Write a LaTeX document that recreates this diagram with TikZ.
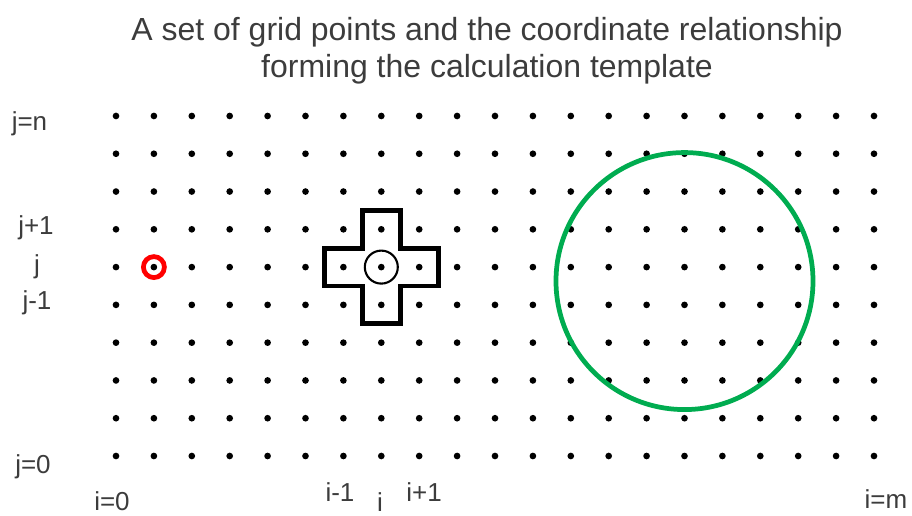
\documentclass[tikz,border=0pt]{standalone}
\usepackage{fontspec}
\setmainfont{Liberation Sans}
\usetikzlibrary{positioning}
\definecolor{TextGray}{RGB}{60,60,60}
\definecolor{StencilGreen}{RGB}{0,172,80}
\definecolor{PointRed}{RGB}{255,0,0}

\begin{document}
\begin{tikzpicture}[every node/.style={font=\fontsize{14.8}{17}\selectfont, text=TextGray, inner sep=0pt}]
\tikzset{
  heading/.style={font=\fontsize{18.2}{21}\selectfont, align=center},
  index/.style={anchor=base},
  gridpt/.style={fill=black},
  stencil/.style={draw=black, line width=2.7pt, line join=miter},
  mark ring/.style={draw=PointRed, line width=2.7pt},
  region/.style={draw=StencilGreen, line width=2.7pt}
}
  \useasboundingbox (0,0) rectangle (18.24,10.3);
  \node[heading] (title) at (9.74,9.28)
    {A set of grid points and the coordinate relationship\\forming the calculation template};
  % row indices
  \node[index] (jn) at (0.59,7.68) {j=n};
  \node[index] (jp) at (0.72,5.60) {j+1};
  \node[index] (jc) at (0.74,4.84) {j};
  \node[index] (jm) at (0.74,4.10) {j-1};
  \node[index] (j0) at (0.66,0.84) {j=0};
  % column indices
  \node[index] (i0) at (2.24,0.10) {i=0};
  \node[index] (im) at (6.80,0.28) {i-1};
  \node[index] (ic) at (7.60,0.08) {i};
  \node[index] (ip) at (8.48,0.28) {i+1};
  \node[index] (iend) at (17.72,0.14) {i=m};
  \begin{scope}[shift={(2.32,1.18)}, x=0.758cm, y=0.7556cm]
    \foreach \i in {0,...,20}
      \foreach \j in {0,...,9}
        \fill[gridpt] (\i,\j) circle[radius=1.9pt];
    % five point template round (i,j)
    \draw[stencil] (6.5,6.5) -- (7.5,6.5) -- (7.5,5.5) -- (8.5,5.5) -- (8.5,4.5)
      -- (7.5,4.5) -- (7.5,3.5) -- (6.5,3.5) -- (6.5,4.5) -- (5.5,4.5)
      -- (5.5,5.5) -- (6.5,5.5) -- cycle;
    \draw[black, line width=1.2pt] (7,5) circle[radius=0.33cm];
    \draw[mark ring] (1,5) circle[radius=0.21cm];
    \draw[region] (15,4.63) circle[radius=2.57cm];
  \end{scope}
\end{tikzpicture}
\end{document}
